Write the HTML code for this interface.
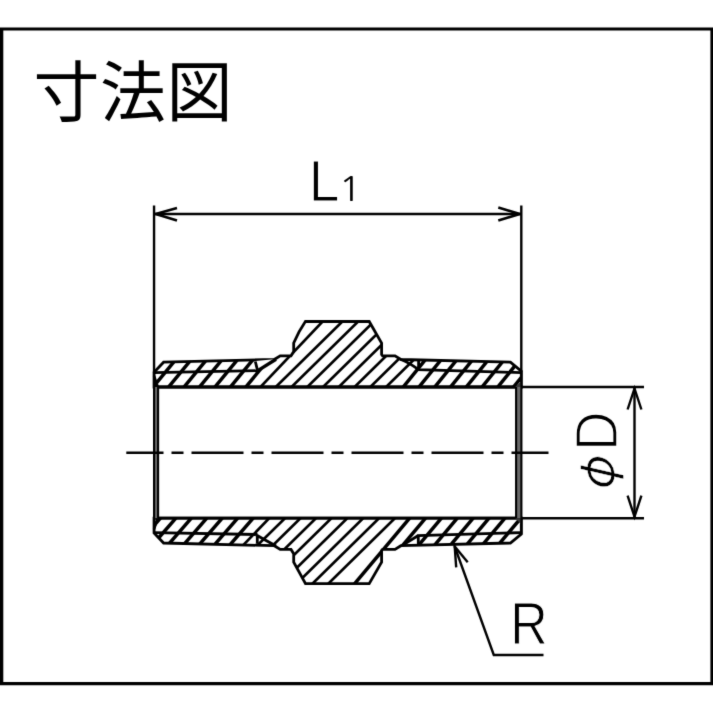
<!DOCTYPE html>
<html lang="ja"><head><meta charset="utf-8"><title>寸法図</title>
<style>
html,body{margin:0;padding:0;background:#fff;}
body{width:713px;height:713px;position:relative;overflow:hidden;font-family:"Liberation Sans","Noto Sans CJK JP",sans-serif;color:#000;}
#w{position:absolute;left:-20px;top:-20px;width:753px;height:753px;filter:url(#soft);}
#c{position:absolute;left:20px;top:20px;width:713px;height:713px;}
.t{position:absolute;white-space:nowrap;line-height:1;transform-origin:50% 50%;}
#title{left:33.57px;top:59.87px;font-family:"Liberation Sans","Noto Sans CJK JP",sans-serif;font-size:66px;letter-spacing:0.5px;}
#L{left:307.70px;top:151.65px;font-family:"Liberation Sans",sans-serif;font-size:58.1px;-webkit-text-stroke:1px #fff;transform:scaleX(0.95);}
#one{left:340.10px;top:172.87px;font-family:"NanumGothic","Liberation Sans",sans-serif;font-size:33.6px;transform:scaleX(1.15);filter:grayscale(1);}
#R{left:508.20px;top:594.90px;font-family:"Liberation Sans",sans-serif;font-size:58.3px;-webkit-text-stroke:1px #fff;transform:scaleX(0.89);}
#D{left:575.58px;top:402.02px;font-family:"Liberation Sans",sans-serif;font-size:58.4px;-webkit-text-stroke:1.5px #fff;transform:rotate(-90deg) scaleX(0.94);}
#phi{left:574.96px;top:446.04px;font-family:"Noto Sans CJK JP","Liberation Sans",sans-serif;font-size:48px;-webkit-text-stroke:0.5px #fff;filter:grayscale(1);transform:rotate(-90deg) skewX(-13deg) scaleX(0.93);}
</style></head>
<body>
<svg width="0" height="0" style="position:absolute"><defs><filter id="soft" x="0" y="0" width="100%" height="100%" color-interpolation-filters="sRGB"><feConvolveMatrix order="3" kernelMatrix="0.018 0.135 0.018 0.135 1 0.135 0.018 0.135 0.018" divisor="1.612" edgeMode="duplicate" preserveAlpha="false"/></filter></defs></svg>
<div id="w"><div id="c">
<svg width="713" height="713" viewBox="0 0 713 713" style="position:absolute;left:0;top:0;overflow:visible">
<defs>
<clipPath id="cu"><path d="M 154.05,387.0 L 154.05,372.2 L 163.6,362.2 L 274.3,359.5 L 280.2,355.8 L 291.0,355.8 L 293.7,351.5 L 293.7,343.0 Q 298.6,331.3 305.4,321.5 L 369.2,321.5 L 381.6,343.0 L 381.6,354.6 L 382.6,355.8 L 395.0,355.8 L 400.9,359.5 L 510.4,362.2 L 521.3,371.2 L 521.3,387.0 Z"/></clipPath>
<clipPath id="cl"><path d="M 154.05,518.2 L 154.05,533.0 L 163.6,543.0 L 274.3,545.7 L 280.2,549.4 L 291.0,549.4 L 293.7,553.7 L 293.7,562.2 L 305.5,583.7 L 369.2,583.7 L 381.6,562.2 L 381.6,550.6 L 382.6,549.4 L 395.0,549.4 L 400.9,545.7 L 510.4,543.0 L 521.3,534.0 L 521.3,518.2 Z"/></clipPath>
</defs>
<path d="M-15,27.4 H728 V685.2 H-15 Z M3.3,30.5 V682.1 H710.4 V30.5 Z" fill="#000" fill-rule="evenodd"/>
<g fill="none" stroke="#000" stroke-width="2.7">
<path clip-path="url(#cu)" d="M255.71,392 L328.78,315 M270.65,392 L349.01,315 M286.41,392 L364.77,315 M302.17,392 L380.53,315 M317.93,392 L396.29,315 M333.69,392 L412.05,315 M349.45,392 L427.81,315 M365.21,392 L443.57,315 M380.97,392 L459.33,315"/>
<path clip-path="url(#cl)" d="M199.89,590 L275.21,512 M211.98,590 L291.35,512 M227.44,590 L306.81,512 M242.90,590 L322.27,512 M258.36,590 L337.73,512 M274.24,590 L353.61,512 M290.12,590 L369.49,512 M306.00,590 L385.37,512 M321.88,590 L401.25,512"/>
</g>
<g fill="none" stroke="#000" stroke-width="3.5">
<path clip-path="url(#cu)" d="M56.34,392 L119.81,315 M71.79,392 L135.26,315 M87.24,392 L150.71,315 M102.69,392 L166.16,315 M118.14,392 L181.61,315 M133.59,392 L197.06,315 M149.04,392 L212.51,315 M164.49,392 L227.96,315 M179.94,392 L243.41,315 M195.39,392 L258.86,315 M210.84,392 L274.31,315 M226.29,392 L289.76,315 M241.74,392 L305.21,315 M399.20,392 L461.56,315 M414.96,392 L477.32,315 M430.72,392 L493.08,315 M446.48,392 L508.84,315 M462.24,392 L524.60,315 M478.00,392 L540.36,315 M493.76,392 L556.12,315 M509.52,392 L571.88,315 M525.28,392 L587.64,315 M541.04,392 L603.40,315 M556.80,392 L619.16,315 M572.56,392 L634.92,315 M588.32,392 L650.68,315"/>
<path clip-path="url(#cl)" d="M20.62,590 L88.43,512 M36.08,590 L103.89,512 M51.54,590 L119.35,512 M67.00,590 L134.81,512 M82.46,590 L150.27,512 M97.92,590 L165.73,512 M113.38,590 L181.19,512 M128.84,590 L196.65,512 M144.30,590 L212.11,512 M159.76,590 L227.57,512 M175.22,590 L243.03,512 M190.68,590 L258.49,512 M349.34,590 L414.79,512 M365.22,590 L430.67,512 M381.10,590 L446.55,512 M396.98,590 L462.43,512 M412.86,590 L478.31,512 M428.74,590 L494.19,512 M444.62,590 L510.07,512 M460.50,590 L525.95,512 M476.38,590 L541.83,512 M492.26,590 L557.71,512 M508.14,590 L573.59,512 M524.02,590 L589.47,512 M539.90,590 L605.35,512 M555.78,590 L621.23,512"/>
</g>
<g fill="none" stroke="#000" stroke-width="2.8" stroke-linejoin="miter" stroke-linecap="butt">
<path d="M 154.05,387.0 L 154.05,372.2 L 163.6,362.2 L 274.3,359.5 L 280.2,355.8 L 291.0,355.8 L 293.7,351.5 L 293.7,343.0 Q 298.6,331.3 305.4,321.5 L 369.2,321.5 L 381.6,343.0 L 381.6,354.6 L 382.6,355.8 L 395.0,355.8 L 400.9,359.5 L 510.4,362.2 L 521.3,371.2 L 521.3,387.0 Z"/>
<path d="M 154.05,518.2 L 154.05,533.0 L 163.6,543.0 L 274.3,545.7 L 280.2,549.4 L 291.0,549.4 L 293.7,553.7 L 293.7,562.2 L 305.5,583.7 L 369.2,583.7 L 381.6,562.2 L 381.6,550.6 L 382.6,549.4 L 395.0,549.4 L 400.9,545.7 L 510.4,543.0 L 521.3,534.0 L 521.3,518.2 Z"/>
<path d="M255.3,361 L257.6,370.7 L276.5,359" fill="#fff" stroke="none"/>
<path d="M154.05,372.6 L257.5,370.7 M255.3,361.5 L257.6,370.7"/>
<path d="M257.4,370.9 L276,359.3" stroke-width="3.4"/>
<path d="M521.3,372.6 L418.6,369.7 L418.6,361 M400.9,359.5 Q409,362.5 418.6,369.7"/>
<path d="M154.05,532.6 L257.5,534.5 M257.3,543.7 L257.3,534.5 M255.5,534.5 Q264,539.5 276,545.9"/>
<path d="M521.3,532.6 L418.3,535.5 L418.3,544.2 M402,545.6 L418.3,535.5"/>
<path d="M153,387 L522.5,387"/>
<path d="M153,518.2 L522.5,518.2"/>
</g>
<rect x="154.05" y="387" width="4.0" height="131.20000000000005" fill="#6a6a6a"/>
<rect x="516.1" y="387" width="5.2" height="131.20000000000005" fill="#6a6a6a"/>
<path d="M515.2,387 L521.4,380.8 V387 Z M515.2,518.2 L521.4,524.4 V518.2 Z" fill="#3a3a3a"/>
<path d="M154.05,376 L157.6,386.5 M154.05,529.2 L157.6,518.7" stroke="#000" stroke-width="2.6" fill="none"/>
<g fill="none" stroke="#000" stroke-width="2.1">
<path d="M154.05,372 L154.05,533.0"/>
<path d="M158.1,387 L158.1,518.2"/>
<path d="M521.4,371 L521.4,534.2"/>
<path d="M516.1,387 L516.1,518.2"/>
</g>
<g fill="none" stroke="#000" stroke-width="2.4" stroke-linejoin="miter" stroke-linecap="butt">
<path d="M154.05,205.5 L154.05,372.5"/>
<path d="M521.3,205.5 L521.3,371.5"/>
<path d="M521,387 L644,387"/>
<path d="M521,518.2 L644,518.2"/>
<path d="M154.05,214 L521.3,214"/>
<path d="M177,208.1 L155.7,214 L177,220.6" stroke-width="2.6" stroke-linejoin="round"/>
<path d="M498.3,207.6 L519.8,214 L498.3,220.6" stroke-width="2.6" stroke-linejoin="round"/>
<path d="M634.5,387 L634.5,518.2"/>
<path d="M627.6,409.5 L634.5,388.5 L641.4,409.5"/>
<path d="M627.6,495.7 L634.5,516.7 L641.4,495.7"/>
<path d="M454.5,546 L493.8,655 L543.5,655"/>
<path d="M456.2,567.3 L454.7,546.5 L467.7,562.2"/>
<path d="M126.3,452.8 L548.5,452.8" stroke-dasharray="52 8 12 8" stroke-dashoffset="14.8"/>
</g>
</svg>
<div class="t" id="title">寸法図</div>
<div class="t" id="L">L</div>
<div class="t" id="one">1</div>
<div class="t" id="R">R</div>
<div class="t" id="D">D</div>
<div class="t" id="phi">φ</div>
</div></div>
</body></html>
